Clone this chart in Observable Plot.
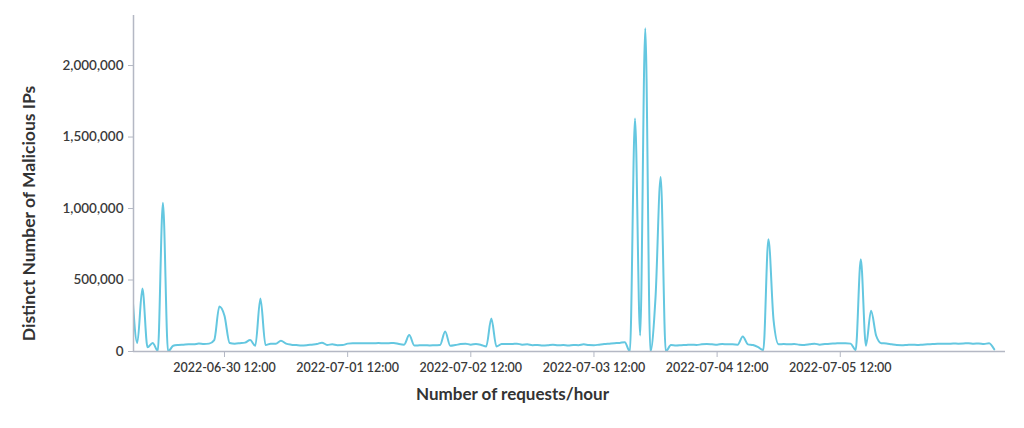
<!DOCTYPE html>
<html>
<head>
<meta charset="utf-8">
<script src="https://cdn.jsdelivr.net/npm/d3@7"></script>
<script src="https://cdn.jsdelivr.net/npm/@observablehq/plot@0.6"></script>
<style>
  html, body { margin: 0; padding: 0; background: #fff; }
  #chart { width: 1024px; height: 428px; }
  svg { font-family: Lato, "Noto Sans", sans-serif; }
</style>
</head>
<body>
<div id="chart"></div>
<script>
// First hourly sample and sequence of hourly counts (distinct malicious IPs)
const startTime = "2022-06-29T18:00:00Z";
const hourlyValues = [
  430000, 60000, 440000, 30000, 60000, 5000, 1040000, 0, 40000, 46000,
  48000, 50000, 50000, 56000, 52000, 55000, 80000, 315000, 250000, 60000,
  55000, 58000, 62000, 80000, 40000, 370000, 45000, 55000, 55000, 75000,
  55000, 48000, 45000, 42000, 44000, 48000, 52000, 62000, 46000, 50000,
  44000, 45000, 55000, 58000, 58000, 57000, 58000, 58000, 59000, 58000,
  58000, 60000, 52000, 48000, 115000, 42000, 43000, 44000, 42000, 44000,
  45000, 140000, 40000, 45000, 52000, 55000, 48000, 52000, 46000, 35000,
  230000, 35000, 52000, 53000, 52000, 55000, 48000, 50000, 44000, 46000,
  42000, 44000, 48000, 44000, 45000, 42000, 46000, 44000, 50000, 45000,
  44000, 48000, 52000, 55000, 58000, 60000, 65000, 0, 1630000, 112000,
  2260000, 0, 380000, 1220000, 0, 45000, 42000, 44000, 46000, 48000,
  46000, 50000, 52000, 50000, 48000, 52000, 50000, 50000, 48000, 105000,
  50000, 45000, 30000, 10000, 785000, 220000, 50000, 52000, 50000, 52000,
  48000, 46000, 50000, 55000, 48000, 52000, 55000, 56000, 58000, 58000,
  55000, 10000, 645000, 40000, 285000, 110000, 58000, 56000, 50000, 45000,
  44000, 46000, 48000, 46000, 48000, 50000, 52000, 54000, 55000, 54000,
  56000, 55000, 56000, 58000, 55000, 56000, 52000, 58000, 15000
];
const xTickLabels = ["2022-06-30 12:00", "2022-07-01 12:00", "2022-07-02 12:00",
                     "2022-07-03 12:00", "2022-07-04 12:00", "2022-07-05 12:00"];
const yTicks = [0, 500000, 1000000, 1500000, 2000000];
const xDomain = ["2022-06-29T18:16:00Z", "2022-07-06T20:12:00Z"];
const yMax = 2350000;
const yTitle = "Distinct Number of Malicious IPs";
const xTitle = "Number of requests/hour";

const t0 = new Date(startTime).getTime();
const data = hourlyValues.map((v, i) => ({time: new Date(t0 + i * 3600000), value: v}));
const xTicks = xTickLabels.map(s => new Date(s.replace(" ", "T") + ":00Z"));
const fmtX = d3.utcFormat("%Y-%m-%d %H:%M");
const axisColor = "#b4b8c4";

const chart = Plot.plot({
  width: 1024,
  height: 428,
  marginLeft: 133,
  marginRight: 19,
  marginTop: 15,
  marginBottom: 77,
  style: {fontFamily: "Lato, 'Noto Sans', sans-serif", color: "#3a3a3a", background: "#fff"},
  x: {type: "utc", domain: xDomain.map(d => new Date(d)), ticks: xTicks, tickFormat: fmtX, label: null},
  y: {domain: [0, yMax], ticks: yTicks, tickFormat: d3.format(","), label: null},
  marks: [
    Plot.line(data, {x: "time", y: "value", stroke: "#64c7e0", strokeWidth: 2, curve: "monotone-x", clip: true}),
    Plot.ruleX([new Date(xDomain[0])], {stroke: axisColor, strokeWidth: 1.5}),
    Plot.ruleY([0], {stroke: axisColor, strokeWidth: 1.5}),
    Plot.axisX({ticks: xTicks, tickFormat: fmtX, tickSize: 6, tickPadding: 6, fontSize: 12.5, fontWeight: 600, stroke: axisColor, color: "#3a3a3a", label: null}),
    Plot.axisY({ticks: yTicks, tickFormat: d3.format(","), tickSize: 5, tickPadding: 5, fontSize: 13.5, fontWeight: 600, stroke: axisColor, color: "#3a3a3a", label: null}),
    Plot.text([yTitle], {frameAnchor: "left", dx: -104, dy: 30, rotate: -90, textAnchor: "middle", fontSize: 17.5, fontWeight: "bold", fill: "#333"}),
    Plot.text([xTitle], {frameAnchor: "bottom", dx: -57, dy: 48, textAnchor: "middle", fontSize: 17, fontWeight: "bold", fill: "#333"})
  ]
});
document.getElementById("chart").appendChild(chart);
</script>
</body>
</html>
